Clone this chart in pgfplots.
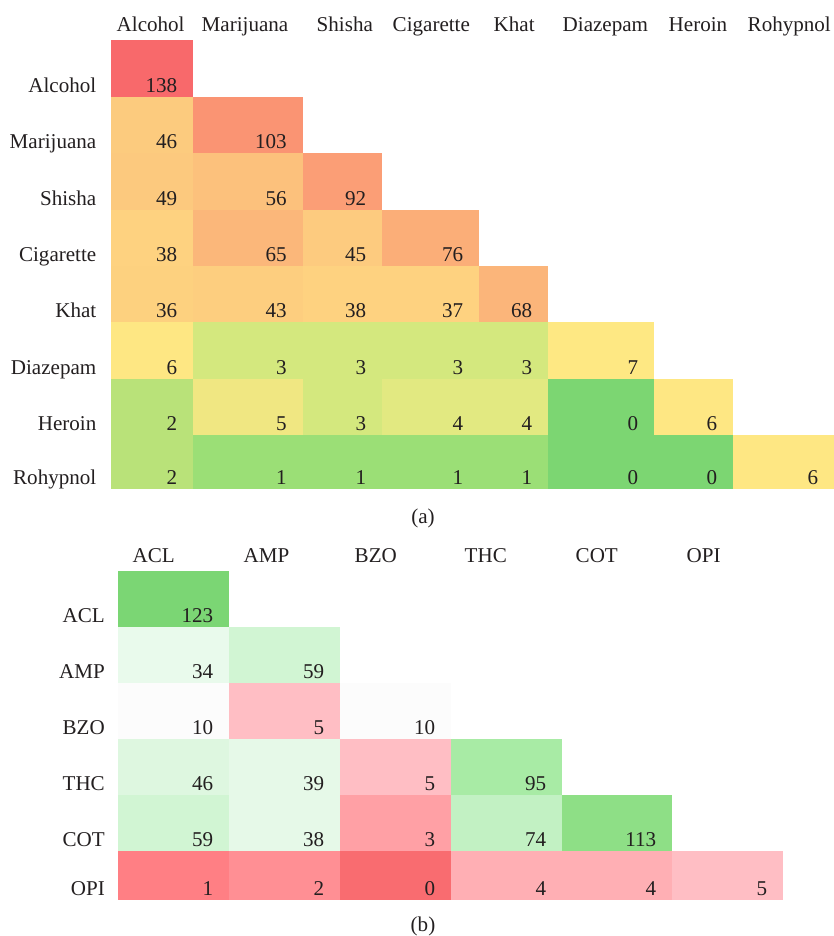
\documentclass[border=0pt]{standalone}
\usepackage{pgfplots}
\pgfplotsset{compat=1.18}
\usepackage{fontspec}
\setmainfont{Liberation Serif}

\definecolor{txt}{HTML}{231F20}
% panel (a) colours, named by value
\definecolor{va138}{HTML}{F8696B}
\definecolor{va103}{HTML}{FA9473}
\definecolor{va92}{HTML}{FB9E76}
\definecolor{va76}{HTML}{FBAE78}
\definecolor{va68}{HTML}{FBB57A}
\definecolor{va65}{HTML}{FBB77A}
\definecolor{va56}{HTML}{FCC17C}
\definecolor{va49}{HTML}{FCC97E}
\definecolor{va46}{HTML}{FCCB7E}
\definecolor{va45}{HTML}{FDCB7F}
\definecolor{va43}{HTML}{FDCE7F}
\definecolor{va38}{HTML}{FED280}
\definecolor{va37}{HTML}{FED280}
\definecolor{va36}{HTML}{FDD17F}
\definecolor{va7}{HTML}{FEE883}
\definecolor{va6}{HTML}{FEE783}
\definecolor{va5}{HTML}{F0E782}
\definecolor{va4}{HTML}{E2E981}
\definecolor{va3}{HTML}{D4E87E}
\definecolor{va2}{HTML}{B9E279}
\definecolor{va1}{HTML}{9BDF76}
\definecolor{va0}{HTML}{7CD672}
% panel (b)
\definecolor{vb123}{HTML}{7BD674}
\definecolor{vb113}{HTML}{8EDF86}
\definecolor{vb95}{HTML}{A8EBA5}
\definecolor{vb74}{HTML}{C2F1C3}
\definecolor{vb59}{HTML}{D1F5D3}
\definecolor{vb46}{HTML}{DEF7E0}
\definecolor{vb39}{HTML}{E6F9E8}
\definecolor{vb38}{HTML}{E6F9E8}
\definecolor{vb34}{HTML}{E9FAEC}
\definecolor{vb10}{HTML}{FCFCFC}
\definecolor{vb5}{HTML}{FFBEC4}
\definecolor{vb4}{HTML}{FFAFB4}
\definecolor{vb3}{HTML}{FFA0A5}
\definecolor{vb2}{HTML}{FF8F94}
\definecolor{vb1}{HTML}{FF7F84}
\definecolor{vb0}{HTML}{F96C70}

% cell: panel, x0, x1, y0, y1, value
\newcommand\cell[6]{%
  \addplot[draw=none, fill=v#1#6] coordinates {(#2,#4) (#3,#4) (#3,#5) (#2,#5)};
  \node[anchor=base east, xshift=-8.3pt, yshift=3.3pt] at (axis cs:#3,#5) {#6};
}
\newcommand\rowlab[3]{\node[anchor=base east] at (axis cs:#1,#2) {#3};}
\newcommand\collab[3]{\node[anchor=base west] at (axis cs:#1,#2) {#3};}

\begin{document}
\begin{tikzpicture}[font=\fontsize{15.8pt}{18pt}\selectfont, text=txt]
\begin{axis}[
  x=0.75pt, y=0.75pt, y dir=reverse,
  xmin=0, xmax=834, ymin=0, ymax=936,
  hide axis, clip=false, scale only axis,
]
% ---- panel (a)
\collab{112}{31}{Alcohol}
\collab{197}{31}{Marijuana}
\collab{312}{31}{Shisha}
\collab{388}{31}{Cigarette}
\collab{489}{31}{Khat}
\collab{558}{31}{Diazepam}
\collab{664}{31}{Heroin}
\collab{743}{31}{Rohypnol}

\rowlab{101}{92}{Alcohol}
\rowlab{101}{148.5}{Marijuana}
\rowlab{101}{205}{Shisha}
\rowlab{101}{261.5}{Cigarette}
\rowlab{101}{317.5}{Khat}
\rowlab{101}{374.5}{Diazepam}
\rowlab{101}{430.5}{Heroin}
\rowlab{101}{484.5}{Rohypnol}

\cell{a}{111}{193}{40}{96.5}{138}

\cell{a}{111}{193}{96.5}{153}{46}
\cell{a}{193}{302.5}{96.5}{153}{103}

\cell{a}{111}{193}{153}{209.5}{49}
\cell{a}{193}{302.5}{153}{209.5}{56}
\cell{a}{302.5}{382}{153}{209.5}{92}

\cell{a}{111}{193}{209.5}{266}{38}
\cell{a}{193}{302.5}{209.5}{266}{65}
\cell{a}{302.5}{382}{209.5}{266}{45}
\cell{a}{382}{479}{209.5}{266}{76}

\cell{a}{111}{193}{266}{322}{36}
\cell{a}{193}{302.5}{266}{322}{43}
\cell{a}{302.5}{382}{266}{322}{38}
\cell{a}{382}{479}{266}{322}{37}
\cell{a}{479}{548}{266}{322}{68}

\cell{a}{111}{193}{322}{379}{6}
\cell{a}{193}{302.5}{322}{379}{3}
\cell{a}{302.5}{382}{322}{379}{3}
\cell{a}{382}{479}{322}{379}{3}
\cell{a}{479}{548}{322}{379}{3}
\cell{a}{548}{654}{322}{379}{7}

\cell{a}{111}{193}{379}{435}{2}
\cell{a}{193}{302.5}{379}{435}{5}
\cell{a}{302.5}{382}{379}{435}{3}
\cell{a}{382}{479}{379}{435}{4}
\cell{a}{479}{548}{379}{435}{4}
\cell{a}{548}{654}{379}{435}{0}
\cell{a}{654}{733}{379}{435}{6}

\cell{a}{111}{193}{435}{489}{2}
\cell{a}{193}{302.5}{435}{489}{1}
\cell{a}{302.5}{382}{435}{489}{1}
\cell{a}{382}{479}{435}{489}{1}
\cell{a}{479}{548}{435}{489}{1}
\cell{a}{548}{654}{435}{489}{0}
\cell{a}{654}{733}{435}{489}{0}
\cell{a}{733}{834}{435}{489}{6}

\node[anchor=base] at (axis cs:423,523.5) {(a)};

% ---- panel (b)
\collab{128}{562}{ACL}
\collab{239}{562}{AMP}
\collab{350}{562}{BZO}
\collab{460}{562}{THC}
\collab{571}{562}{COT}
\collab{682}{562}{OPI}

\rowlab{109.5}{622}{ACL}
\rowlab{109.5}{678}{AMP}
\rowlab{109.5}{734}{BZO}
\rowlab{109.5}{790}{THC}
\rowlab{109.5}{846}{COT}
\rowlab{109.5}{895}{OPI}

\cell{b}{118}{229}{571}{627}{123}

\cell{b}{118}{229}{627}{683}{34}
\cell{b}{229}{340}{627}{683}{59}

\cell{b}{118}{229}{683}{739}{10}
\cell{b}{229}{340}{683}{739}{5}
\cell{b}{340}{451}{683}{739}{10}

\cell{b}{118}{229}{739}{795}{46}
\cell{b}{229}{340}{739}{795}{39}
\cell{b}{340}{451}{739}{795}{5}
\cell{b}{451}{562}{739}{795}{95}

\cell{b}{118}{229}{795}{851}{59}
\cell{b}{229}{340}{795}{851}{38}
\cell{b}{340}{451}{795}{851}{3}
\cell{b}{451}{562}{795}{851}{74}
\cell{b}{562}{672}{795}{851}{113}

\cell{b}{118}{229}{851}{900}{1}
\cell{b}{229}{340}{851}{900}{2}
\cell{b}{340}{451}{851}{900}{0}
\cell{b}{451}{562}{851}{900}{4}
\cell{b}{562}{672}{851}{900}{4}
\cell{b}{672}{783}{851}{900}{5}

\node[anchor=base] at (axis cs:423,931) {(b)};
\end{axis}
\pgfresetboundingbox
\useasboundingbox (current axis.south west) rectangle (current axis.north east);
\end{tikzpicture}
\end{document}
